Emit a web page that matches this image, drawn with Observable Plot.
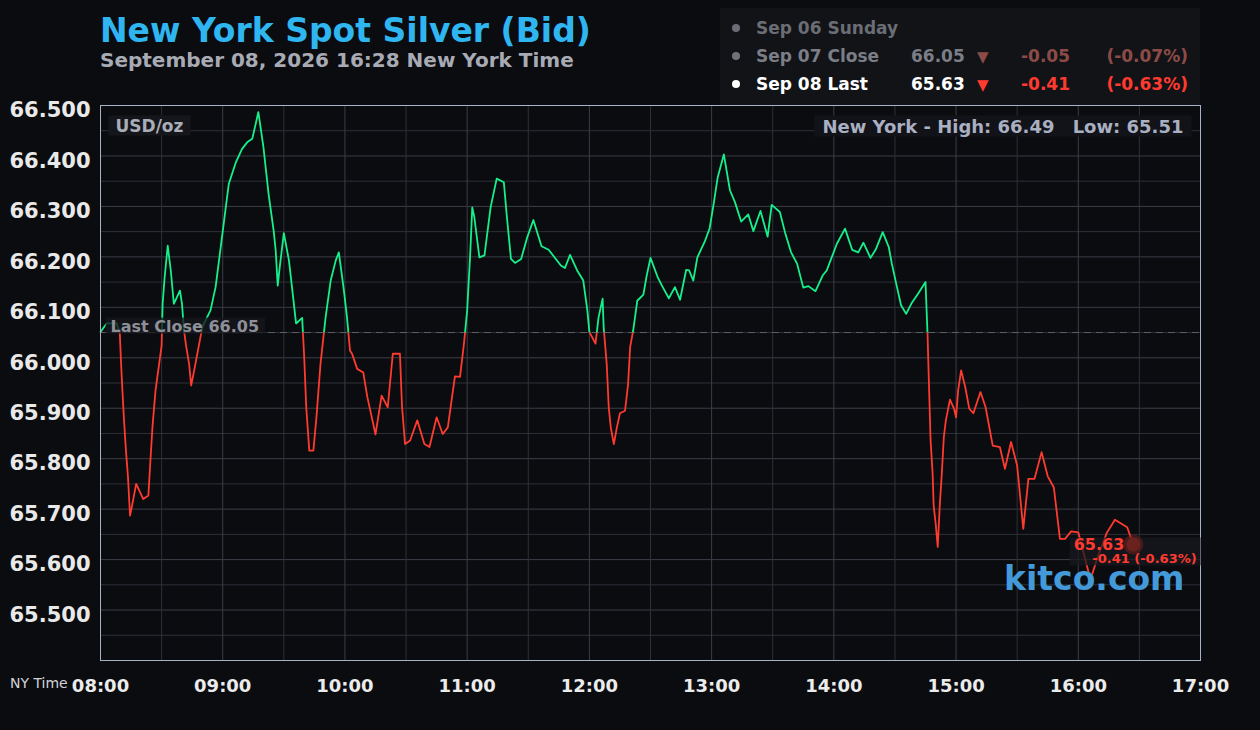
<!DOCTYPE html>
<html>
<head>
<meta charset="utf-8">
<script src="https://cdn.jsdelivr.net/npm/d3@7"></script>
<script src="https://cdn.jsdelivr.net/npm/@observablehq/plot@0.6"></script>
<style>
  html, body { margin: 0; padding: 0; background: #0b0c10; }
  body { width: 1260px; height: 730px; overflow: hidden; font-family: "DejaVu Sans", sans-serif; }
  #wrap { position: relative; width: 1260px; height: 730px; }
  #chart { position: absolute; left: 0; top: 0; }
  .abs { position: absolute; white-space: nowrap; line-height: 1; font-weight: bold; }
  #title { left: 100px; top: 14px; font-size: 33px; color: #2fb6f1; }
  #subtitle { left: 100px; top: 50px; font-size: 20px; color: #a8abb4; }
  #legend { position: absolute; left: 720px; top: 8px; width: 480px; height: 97px; background: #111317; }
  .dot { position: absolute; width: 8px; height: 8px; border-radius: 50%; }
  .lg { font-size: 17px; }
  #nytime { left: 10px; top: 676px; font-size: 14px; font-weight: normal; color: #d2d3d7; }
</style>
</head>
<body>
<div id="wrap">
  <div id="chart"></div>
  <div id="title" class="abs"></div>
  <div id="subtitle" class="abs"></div>
  <div id="legend"></div>
  <div id="nytime" class="abs">NY Time</div>
</div>
<script>
// ---------------- data ----------------
const titleText = "New York Spot Silver (Bid)";
const subtitleText = "September 08, 2026 16:28 New York Time";
const day = "2026-09-08";
const lastClose = 66.05;
const sessionHigh = 66.49;
const sessionLow = 65.51;
const lastPrice = 65.63;
const lastChange = -0.41;
const lastChangePct = -0.63;

const legendLabels = ["Sep 06 Sunday", "Sep 07 Close", "Sep 08 Last"];
const legendValues = [null, 66.05, 65.63];
const legendChanges = [null, -0.05, -0.41];
const legendPcts = [null, -0.07, -0.63];

const yTicks = [65.5, 65.6, 65.7, 65.8, 65.9, 66.0, 66.1, 66.2, 66.3, 66.4, 66.5];
const yMinor = [65.4, 65.45, 65.55, 65.65, 65.75, 65.85, 65.95, 66.05, 66.15, 66.25, 66.35, 66.45];
const xHours = ["08:00", "09:00", "10:00", "11:00", "12:00", "13:00", "14:00", "15:00", "16:00", "17:00"];
const xHalfHours = ["08:30", "09:30", "10:30", "11:30", "12:30", "13:30", "14:30", "15:30", "16:30"];

const times = [
  "08:00:00","08:03:00","08:08:00","08:09:30","08:10:00","08:10:30","08:11:30","08:12:30","08:13:30","08:14:30",
  "08:15:30","08:17:30","08:21:00","08:23:30","08:24:30","08:25:30","08:27:00","08:30:00","08:30:30","08:31:30",
  "08:33:00","08:34:30","08:36:00","08:39:00","08:40:00","08:41:00","08:42:00","08:43:30","08:44:30","08:46:00",
  "08:48:00","08:50:00","08:54:00","08:56:30","08:59:00","09:01:30","09:03:00","09:06:30","09:09:30","09:12:00",
  "09:14:30","09:17:30","09:20:00","09:22:30","09:25:00","09:26:00","09:27:00","09:28:00","09:30:00","09:32:30",
  "09:34:00","09:36:00","09:39:00","09:40:00","09:41:00","09:42:30","09:44:30","09:46:00","09:48:00","09:50:30",
  "09:53:00","09:55:30","09:57:00","09:59:30","10:01:00","10:02:30","10:03:30","10:06:00","10:09:00","10:11:00",
  "10:13:30","10:15:00","10:18:00","10:21:00","10:23:30","10:27:00","10:28:00","10:29:30","10:32:00","10:35:30",
  "10:39:00","10:41:30","10:45:00","10:48:00","10:50:30","10:54:00","10:56:30","10:58:30","11:00:00","11:01:30",
  "11:02:30","11:03:30","11:06:00","11:08:30","11:11:30","11:14:30","11:18:00","11:19:30","11:21:30","11:23:30",
  "11:26:30","11:29:30","11:32:30","11:36:30","11:40:00","11:46:00","11:48:00","11:50:30","11:54:00","11:57:00",
  "11:59:00","12:00:00","12:03:00","12:04:30","12:06:30","12:07:00","12:08:30","12:09:30","12:10:30","12:12:00",
  "12:13:30","12:15:00","12:17:30","12:19:00","12:20:00","12:21:30","12:23:30","12:26:30","12:28:00","12:30:00",
  "12:33:30","12:36:00","12:39:00","12:42:00","12:44:30","12:47:30","12:49:00","12:51:00","12:53:00","12:56:30",
  "12:59:00","13:01:00","13:03:00","13:06:00","13:09:00","13:11:30","13:14:30","13:18:00","13:20:30","13:24:00",
  "13:27:30","13:29:30","13:33:30","13:36:00","13:39:00","13:42:00","13:45:00","13:47:30","13:51:00","13:54:30",
  "13:56:30","14:01:30","14:05:30","14:09:00","14:12:00","14:14:30","14:18:00","14:20:30","14:24:00","14:27:00",
  "14:28:30","14:31:00","14:33:00","14:35:30","14:38:00","14:41:30","14:45:00","14:46:00","14:46:30","14:47:30",
  "14:48:30","14:49:00","14:50:00","14:51:00","14:52:00","14:53:00","14:54:00","14:55:00","14:57:00","14:59:00",
  "15:00:00","15:01:00","15:02:30","15:04:30","15:06:30","15:08:30","15:12:00","15:14:30","15:18:00","15:21:30",
  "15:24:00","15:27:00","15:30:00","15:33:00","15:35:30","15:38:30","15:42:00","15:45:00","15:48:00","15:51:00",
  "15:53:30","15:56:30","16:00:00","16:06:00","16:09:30","16:14:00","16:18:00","16:24:00","16:27:00"
];
const prices = [
  66.051,66.068,66.068,66.047,65.998,65.955,65.879,65.816,65.763,65.687,
  65.707,65.750,65.720,65.727,65.796,65.862,65.935,66.024,66.107,66.160,
  66.222,66.173,66.107,66.133,66.107,66.054,66.024,65.988,65.945,65.975,
  66.018,66.061,66.094,66.140,66.219,66.298,66.345,66.388,66.414,66.427,
  66.434,66.487,66.417,66.325,66.252,66.213,66.143,66.180,66.247,66.193,
  66.140,66.068,66.079,66.001,65.902,65.816,65.816,65.882,65.988,66.080,
  66.153,66.193,66.209,66.133,66.080,66.014,66.008,65.978,65.971,65.922,
  65.876,65.848,65.925,65.902,66.008,66.008,65.905,65.829,65.836,65.876,
  65.829,65.823,65.882,65.849,65.862,65.963,65.962,66.031,66.094,66.206,
  66.298,66.279,66.199,66.203,66.298,66.355,66.348,66.279,66.196,66.188,
  66.196,66.239,66.273,66.221,66.214,66.183,66.178,66.204,66.173,66.153,
  66.094,66.051,66.028,66.080,66.117,66.061,65.988,65.902,65.862,65.829,
  65.862,65.890,65.895,65.948,66.021,66.054,66.113,66.125,66.160,66.198,
  66.160,66.140,66.118,66.140,66.115,66.174,66.173,66.153,66.199,66.229,
  66.256,66.305,66.358,66.403,66.332,66.308,66.270,66.284,66.251,66.291,
  66.240,66.303,66.289,66.249,66.209,66.186,66.139,66.142,66.132,66.163,
  66.173,66.226,66.256,66.214,66.209,66.228,66.198,66.214,66.249,66.219,
  66.186,66.140,66.104,66.087,66.107,66.128,66.150,66.047,65.975,65.836,
  65.770,65.707,65.671,65.625,65.707,65.770,65.843,65.876,65.917,65.899,
  65.882,65.935,65.975,65.942,65.899,65.890,65.932,65.902,65.826,65.823,
  65.780,65.833,65.786,65.661,65.760,65.760,65.813,65.765,65.743,65.641,
  65.641,65.656,65.654,65.560,65.605,65.653,65.679,65.664,65.630
];

// ---------------- build ----------------
const parseT = d3.utcParse("%Y-%m-%d %H:%M:%S");
const T = s => parseT(`${day} ${s.length === 5 ? s + ":00" : s}`);
const data = times.map((t, i) => ({t: T(t), p: prices[i]}));
const last = data[data.length - 1];

const GREEN = "#16f08a", RED = "#ff3b30";

document.getElementById("title").textContent = titleText;
document.getElementById("subtitle").textContent = subtitleText;

const chart = Plot.plot({
  width: 1260,
  height: 730,
  marginLeft: 100,
  marginRight: 60,
  marginTop: 105,
  marginBottom: 70,
  style: {background: "transparent", fontFamily: "DejaVu Sans", overflow: "visible"},
  x: {type: "utc", domain: [T(xHours[0]), T(xHours[xHours.length - 1])]},
  y: {domain: [65.4, 66.5]},
  marks: [
    Plot.ruleY(yMinor, {stroke: "#2e3038"}),
    Plot.ruleY(yTicks, {stroke: "#3c3e47"}),
    Plot.ruleX(xHalfHours.map(T), {stroke: "#2e3038"}),
    Plot.ruleX(xHours.map(T), {stroke: "#3c3e47"}),
    Plot.ruleY([lastClose], {stroke: "#5c5f69", strokeDasharray: "7,5"}),
    Plot.line(data, {x: "t", y: "p", stroke: GREEN, strokeWidth: 1.8}),
    Plot.line(data, {x: "t", y: "p", stroke: RED, strokeWidth: 1.8}),
    Plot.frame({stroke: "#a7b1c7"}),
    Plot.axisY(yTicks, {tickFormat: d3.format(".3f"), tickSize: 0, tickPadding: 10, fontSize: 21, fontWeight: "bold", fill: "#e9e9e9", dy: 5, label: null}),
    Plot.axisX(xHours.map(T), {tickFormat: d3.utcFormat("%H:%M"), tickSize: 0, tickPadding: 19, fontSize: 18, fontWeight: "bold", fill: "#ececec", label: null}),
    Plot.text(["USD/oz"], {text: d => d, frameAnchor: "top-left", textAnchor: "start", lineAnchor: "bottom", dx: 15, dy: 26, fontSize: 17, fontWeight: "bold", fill: "#a9adb7"}),
    Plot.text([sessionHigh], {text: d => `New York - High: ${d.toFixed(2)}`, frameAnchor: "top-right", textAnchor: "end", lineAnchor: "bottom", dx: -146, dy: 27, fontSize: 18, fontWeight: "bold", fill: "#a9b0c2"}),
    Plot.text([sessionLow], {text: d => `Low: ${d.toFixed(2)}`, frameAnchor: "top-right", textAnchor: "end", lineAnchor: "bottom", dx: -17, dy: 27, fontSize: 18, fontWeight: "bold", fill: "#a9b0c2"}),
    Plot.text([lastClose], {y: d => d, text: d => `Last Close ${d.toFixed(2)}`, frameAnchor: "left", textAnchor: "start", lineAnchor: "bottom", dx: 10, dy: -1, fontSize: 16, fontWeight: "bold", fill: "#8e9099"}),
    Plot.text(["kitco.com"], {text: d => d, frameAnchor: "bottom-right", textAnchor: "end", lineAnchor: "bottom", dx: -16, dy: -71, fontSize: 33, fontWeight: "bold", fill: "#4499d8"}),
    Plot.text([last], {x: "t", y: "p", text: () => lastPrice.toFixed(2), textAnchor: "end", lineAnchor: "bottom", dx: -9, dy: 6, fontSize: 16, fontWeight: "bold", fill: RED}),
    Plot.text([last], {x: "t", y: "p", text: () => `${lastChange.toFixed(2)} (${lastChangePct.toFixed(2)}%)`, textAnchor: "start", lineAnchor: "bottom", dx: -41, dy: 19, fontSize: 13, fontWeight: "bold", fill: RED}),
    Plot.dot([last], {x: "t", y: "p", r: 10, fill: "#7a201b", fillOpacity: 0.5}),
    Plot.dot([last], {x: "t", y: "p", r: 7, fill: "#6a221e"})
  ]
});
document.getElementById("chart").appendChild(chart);

// colour the price line green above and red below the last close, using the y scale
const NS = "http://www.w3.org/2000/svg";
const yc = chart.scale("y").apply(lastClose);
const defs = document.createElementNS(NS, "defs");
function clip(id, y, h) {
  const cp = document.createElementNS(NS, "clipPath");
  cp.setAttribute("id", id);
  const r = document.createElementNS(NS, "rect");
  r.setAttribute("x", 0); r.setAttribute("y", y);
  r.setAttribute("width", 1260); r.setAttribute("height", h);
  cp.appendChild(r); defs.appendChild(cp);
}
clip("clipUp", 0, yc);
clip("clipDown", yc, 730 - yc);
chart.insertBefore(defs, chart.firstChild);
const lines = chart.querySelectorAll('g[aria-label="line"]');
lines[0].setAttribute("clip-path", "url(#clipUp)");
lines[1].setAttribute("clip-path", "url(#clipDown)");

// label background boxes
function findText(str) {
  return [...chart.querySelectorAll("text")].find(t => t.textContent === str);
}
function boxBehind(els, pad, fill) {
  const sr = chart.getBoundingClientRect();
  let x0 = Infinity, y0 = Infinity, x1 = -Infinity, y1 = -Infinity;
  for (const e of els) {
    const r = e.getBoundingClientRect();
    x0 = Math.min(x0, r.left); y0 = Math.min(y0, r.top);
    x1 = Math.max(x1, r.right); y1 = Math.max(y1, r.bottom);
  }
  const rect = document.createElementNS(NS, "rect");
  rect.setAttribute("x", x0 - sr.left - pad[3]);
  rect.setAttribute("y", y0 - sr.top - pad[0]);
  rect.setAttribute("width", x1 - x0 + pad[1] + pad[3]);
  rect.setAttribute("height", y1 - y0 + pad[0] + pad[2]);
  rect.setAttribute("fill", fill);
  const g = els[0].closest("g[aria-label]");
  g.parentNode.insertBefore(rect, g);
}
boxBehind([findText("USD/oz")], [0, 7, 0, 7], "#15161b");
boxBehind([findText(`New York - High: ${sessionHigh.toFixed(2)}`), findText(`Low: ${sessionLow.toFixed(2)}`)], [0, 8, 0, 8], "#121318");
boxBehind([findText(`Last Close ${lastClose.toFixed(2)}`)], [-1, 6, -2, 5], "rgba(22,23,28,0.78)");
boxBehind([findText(lastPrice.toFixed(2)), findText(`${lastChange.toFixed(2)} (${lastChangePct.toFixed(2)}%)`)], [-2, 4, -1, 4], "rgba(24,25,30,0.72)");

// legend
const legend = document.getElementById("legend");
const rowStyles = [
  {dot: "#6b6d75", label: "#6b6d75", value: "#7c7e87", chg: "#8d4b48"},
  {dot: "#6f7179", label: "#7c7e87", value: "#7c7e87", chg: "#8d4b48"},
  {dot: "#ffffff", label: "#ffffff", value: "#ffffff", chg: RED}
];
const rowTops = [12, 40, 68];
legendLabels.forEach((lab, i) => {
  const s = rowStyles[i], top = rowTops[i];
  const add = (cls, text, css) => {
    const d = document.createElement("div");
    d.className = cls; if (text != null) d.textContent = text;
    Object.assign(d.style, css); legend.appendChild(d);
  };
  add("dot", null, {left: "12px", top: (top + 4) + "px", background: s.dot});
  add("abs lg", lab, {left: "36px", top: top + "px", color: s.label});
  if (legendValues[i] != null) {
    add("abs lg", legendValues[i].toFixed(2), {left: "191px", top: top + "px", color: s.value});
    add("abs", "▼", {left: "257px", top: (top + 2) + "px", fontSize: "15px", color: s.chg});
    add("abs lg", legendChanges[i].toFixed(2), {left: "301px", top: top + "px", color: s.chg});
    add("abs lg", `(${legendPcts[i].toFixed(2)}%)`, {right: "12px", top: top + "px", color: s.chg});
  }
});
</script>
</body>
</html>
